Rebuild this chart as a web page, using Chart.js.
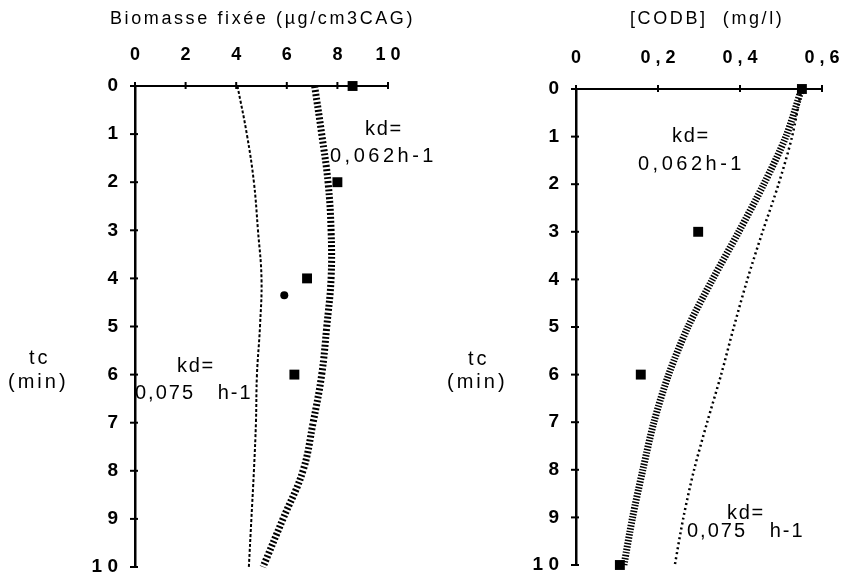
<!DOCTYPE html>
<html>
<head>
<meta charset="utf-8">
<script src="https://cdn.jsdelivr.net/npm/chart.js@4.4.0/dist/chart.umd.min.js"></script>
<style>
  body { margin: 0; background: #fff; }
  #page { position: relative; width: 843px; height: 578px; overflow: hidden; }
  canvas { position: absolute; top: 0; }
  .txt { position: absolute; font-family: "Liberation Sans", Arial, sans-serif; color: #000;
         font-size: 20px; white-space: pre; line-height: 1; }
</style>
</head>
<body>
<div id="page">
  <canvas id="left" width="421" height="578" style="left:0"></canvas>
  <canvas id="right" width="422" height="578" style="left:421px"></canvas>

  <div class="txt" style="left:110px; top:9px; font-size:18px; letter-spacing:2.6px">Biomasse fixée (µg/cm3CAG)</div>
  <div class="txt" style="left:630px; top:9px; font-size:18px; letter-spacing:2.6px">[CODB]  (mg/l)</div>

  <div class="txt" style="left:29px; top:347px; letter-spacing:3px">tc</div>
  <div class="txt" style="left:8px; top:371px; letter-spacing:3px">(min)</div>
  <div class="txt" style="left:468px; top:348px; letter-spacing:3px">tc</div>
  <div class="txt" style="left:447px; top:371px; letter-spacing:3px">(min)</div>

  <div class="txt" style="left:365px; top:118px; letter-spacing:1.7px">kd=</div>
  <div class="txt" style="left:330px; top:145px; letter-spacing:3.5px">0,062h-1</div>
  <div class="txt" style="left:177px; top:355px; letter-spacing:1.7px">kd=</div>
  <div class="txt" style="left:135px; top:382px; letter-spacing:2px">0,075   h-1</div>

  <div class="txt" style="left:672px; top:125px; letter-spacing:1.7px">kd=</div>
  <div class="txt" style="left:638px; top:153px; letter-spacing:3.5px">0,062h-1</div>
  <div class="txt" style="left:727px; top:502px; letter-spacing:1.7px">kd=</div>
  <div class="txt" style="left:687px; top:520px; letter-spacing:2px">0,075   h-1</div>
</div>
<script>
// temps de contact (min) pour les courbes
var tcCurve = [0, 1, 2, 3, 4, 5, 6, 7, 8, 9, 10];
var tcLabels = ['0', '1', '2', '3', '4', '5', '6', '7', '8', '9', '1 0'];

// biomasse fixee
var biomLabels = ['0', '2', '4', '6', '8', '1 0'];
var biomKd075 = [4.05, 4.42, 4.7, 4.86, 5.0, 4.94, 4.82, 4.78, 4.7, 4.6, 4.5];
var biomKd062 = [7.1, 7.38, 7.63, 7.75, 7.75, 7.58, 7.38, 7.04, 6.64, 5.85, 5.06];
var biomTcMes = [0, 2, 4, 6];
var biomMes = [8.6, 8.0, 6.8, 6.3];
var biomTcRond = [4.35];
var biomRond = [5.9];

// CODB
var codbLabels = ['0', '0 , 2', '0 , 4', '0 , 6'];
var codbKd062 = [0.55, 0.512, 0.458, 0.397, 0.333, 0.273, 0.226, 0.19, 0.163, 0.138, 0.117];
var codbKd075 = [0.55, 0.527, 0.494, 0.455, 0.418, 0.385, 0.354, 0.32, 0.288, 0.262, 0.241];
var codbTcMes = [0, 3, 6, 10];
var codbMes = [0.551, 0.298, 0.158, 0.107];

function pts(xs, ys) {
    return xs.map(function(v, i) { return { x: v, y: ys[i] }; });
}

// petites graduations qui traversent les axes
var crossTicks = {
    id: 'crossTicks',
    afterDraw: function(chart) {
        var ctx = chart.ctx;
        ctx.save();
        ctx.strokeStyle = '#000';
        ctx.lineWidth = 2;
        var xs = chart.scales.x, ys = chart.scales.y;
        xs.ticks.forEach(function(t) {
            var px = xs.getPixelForValue(t.value);
            ctx.beginPath();
            ctx.moveTo(px, ys.top - 4);
            ctx.lineTo(px, ys.top + 3);
            ctx.stroke();
        });
        ys.ticks.forEach(function(t) {
            var py = ys.getPixelForValue(t.value);
            ctx.beginPath();
            ctx.moveTo(xs.left - 5, py);
            ctx.lineTo(xs.left + 3, py);
            ctx.stroke();
        });
        ctx.restore();
    }
};

function makeChart(id, cfg) {
    var ctx = document.getElementById(id).getContext('2d');
    return new Chart(ctx, {
        type: 'scatter',
        data: { datasets: cfg.datasets },
        options: {
            responsive: false,
            animation: false,
            layout: { padding: { right: cfg.padRight, bottom: cfg.padBottom, top: 0, left: 0 } },
            plugins: { legend: { display: false }, tooltip: { enabled: false } },
            scales: {
                x: {
                    type: 'linear',
                    position: 'top',
                    min: 0,
                    max: cfg.xMax,
                    afterFit: function(s) {
                        s.height = cfg.top;
                        s.paddingLeft = 0;
                        s.paddingRight = 0;
                    },
                    afterBuildTicks: function(s) {
                        s.ticks = cfg.xTicks.map(function(v) { return { value: v }; });
                    },
                    ticks: {
                        color: '#000',
                        font: { family: 'Liberation Sans', size: 18, weight: 'bold' },
                        padding: 20,
                        maxRotation: 0,
                        callback: function(v, i) { return cfg.xLabels[i]; }
                    },
                    grid: { display: false, drawTicks: false, tickLength: 0 },
                    border: { display: true, color: '#000', width: 2 }
                },
                y: {
                    type: 'linear',
                    reverse: true,
                    min: 0,
                    max: 10,
                    afterFit: function(s) {
                        s.width = cfg.left;
                        s.paddingTop = 0;
                        s.paddingBottom = 0;
                    },
                    ticks: {
                        stepSize: 1,
                        color: '#000',
                        font: { family: 'Liberation Sans', size: 19, weight: 'bold' },
                        padding: 17,
                        callback: function(v) { return tcLabels[Math.round(v)]; }
                    },
                    grid: { display: false, drawTicks: false, tickLength: 0 },
                    border: { display: true, color: '#000', width: 2.5 }
                }
            }
        },
        plugins: [crossTicks]
    });
}

makeChart('left', {
    left: 135, top: 86, padRight: 33, padBottom: 11, xMax: 10,
    xTicks: [0, 2, 4, 6, 8, 10], xLabels: biomLabels,
    datasets: [
        { data: pts(biomKd075, tcCurve), showLine: true, borderColor: '#000', borderWidth: 2,
          borderDash: [3, 2], pointRadius: 0, tension: 0.4, clip: false },
        { data: pts(biomKd062, tcCurve), showLine: true, borderColor: '#000', borderWidth: 7,
          borderDash: [2, 2], pointRadius: 0, tension: 0.4, clip: false },
        { data: pts(biomMes, biomTcMes), pointStyle: 'rect', pointRadius: 7,
          backgroundColor: '#000', borderColor: '#000', borderWidth: 0, clip: false },
        { data: pts(biomRond, biomTcRond), pointStyle: 'circle', pointRadius: 4,
          backgroundColor: '#000', borderColor: '#000', borderWidth: 0, clip: false }
    ]
});

makeChart('right', {
    left: 155, top: 89, padRight: 21, padBottom: 13, xMax: 0.6,
    xTicks: [0, 0.2, 0.4, 0.6], xLabels: codbLabels,
    datasets: [
        { data: pts(codbKd075, tcCurve), showLine: true, borderColor: '#000', borderWidth: 2.5,
          borderDash: [2, 3], pointRadius: 0, tension: 0.3, clip: false },
        { data: pts(codbKd062, tcCurve), showLine: true, borderColor: '#000', borderWidth: 7,
          borderDash: [1.5, 1.5], pointRadius: 0, tension: 0.3, clip: false },
        { data: pts(codbMes, codbTcMes), pointStyle: 'rect', pointRadius: 7,
          backgroundColor: '#000', borderColor: '#000', borderWidth: 0, clip: false }
    ]
});
</script>
</body>
</html>
